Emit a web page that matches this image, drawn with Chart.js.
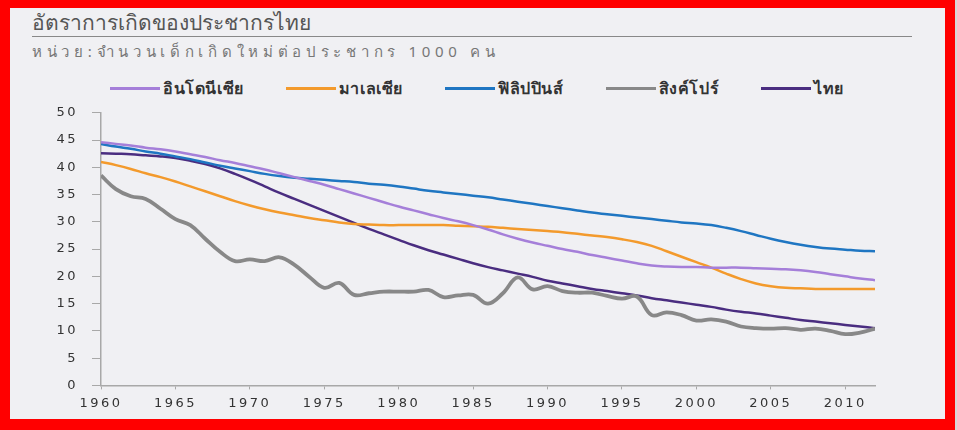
<!DOCTYPE html>
<html lang="th">
<head>
  <meta charset="UTF-8">
  <title>อัตราการเกิดของประชากรไทย</title>
  <script src="https://cdn.jsdelivr.net/npm/chart.js@4.4.1/dist/chart.umd.min.js"></script>
  <style>
    html, body {
      margin: 0;
      padding: 0;
      background: #d8d8d8;
    }
    .frame {
      position: absolute;
      left: 0;
      top: 0;
      width: 955px;
      height: 430px;
      box-sizing: border-box;
      border-style: solid;
      border-color: #ff0000;
      border-width: 8px 10px 11px 10px;
      background: #f0f0f3;
    }
    .title {
      position: absolute;
      left: 32px;
      top: 6px;
      font-family: "Noto Sans", "DejaVu Sans", sans-serif;
      font-size: 21px;
      color: #555;
    }
    .rule {
      position: absolute;
      left: 32px;
      top: 36px;
      width: 880px;
      height: 1px;
      background: #888;
    }
    .subtitle {
      position: absolute;
      left: 32px;
      top: 40px;
      font-family: "Noto Sans", "DejaVu Sans", sans-serif;
      font-size: 15px;
      letter-spacing: 4.7px;
      color: #777;
    }
    .legend {
      position: absolute;
      left: 110px;
      top: 76px;
      height: 24px;
      display: flex;
      align-items: center;
      font-family: "Noto Sans", "DejaVu Sans", sans-serif;
      font-size: 16px;
      font-weight: bold;
      letter-spacing: 0.6px;
      color: #333;
    }
    .legend .item {
      display: flex;
      align-items: center;
      margin-right: 42px;
    }
    .legend .swatch {
      width: 50px;
      height: 3px;
      margin-right: 3px;
    }
    .chart-box {
      position: absolute;
      left: 0;
      top: 91px;
      width: 957px;
      height: 326px;
    }
  </style>
</head>
<body>
  <div class="frame"></div>
  <div class="title">อัตราการเกิดของประชากรไทย</div>
  <div class="rule"></div>
  <div class="subtitle">หน่วย:จำนวนเด็กเกิดใหม่ต่อประชากร 1000 คน</div>
  <div class="legend" id="legend"></div>
  <div class="chart-box"><canvas id="chart"></canvas></div>
  <script>
    const years = [];
    for (let y = 1960; y <= 2012; y++) years.push(y);

    const seriesNames = ['อินโดนีเซีย', 'มาเลเซีย', 'ฟิลิปปินส์', 'สิงค์โปร์', 'ไทย'];
    const seriesColors = ['#a57fd9', '#f39a2c', '#1f76c2', '#888888', '#4a2d80'];

    const indonesia = [44.6, 44.3, 44.0, 43.6, 43.3, 42.9, 42.4, 41.9, 41.3, 40.8,
      40.2, 39.6, 38.9, 38.2, 37.5, 36.8, 36.0, 35.2, 34.4, 33.6,
      32.8, 32.1, 31.4, 30.7, 30.1, 29.4, 28.6, 27.7, 26.9, 26.2,
      25.6, 25.0, 24.5, 23.9, 23.4, 22.9, 22.4, 22.0, 21.8, 21.7,
      21.7, 21.6, 21.6, 21.6, 21.5, 21.4, 21.3, 21.1, 20.8, 20.4,
      20.0, 19.6, 19.3];
    const malaysia = [41.0, 40.4, 39.7, 38.9, 38.2, 37.4, 36.5, 35.6, 34.7, 33.8,
      33.0, 32.3, 31.7, 31.2, 30.7, 30.3, 29.9, 29.6, 29.5, 29.4,
      29.4, 29.4, 29.4, 29.4, 29.3, 29.2, 29.1, 28.9, 28.7, 28.5,
      28.3, 28.1, 27.8, 27.5, 27.2, 26.8, 26.3, 25.6, 24.6, 23.6,
      22.6, 21.6, 20.5, 19.5, 18.7, 18.2, 17.9, 17.8, 17.7, 17.7,
      17.7, 17.7, 17.7];
    const philippines = [44.3, 43.8, 43.4, 42.9, 42.5, 42.0, 41.5, 40.9, 40.3, 39.8,
      39.3, 38.8, 38.4, 38.1, 37.9, 37.7, 37.5, 37.3, 37.0, 36.8,
      36.5, 36.1, 35.7, 35.4, 35.1, 34.8, 34.5, 34.1, 33.7, 33.3,
      32.9, 32.5, 32.1, 31.7, 31.4, 31.1, 30.8, 30.5, 30.2, 29.9,
      29.7, 29.4, 28.9, 28.3, 27.6, 26.9, 26.3, 25.8, 25.4, 25.1,
      24.9, 24.7, 24.6];
    const singapore = [38.5, 36.0, 34.7, 34.2, 32.4, 30.5, 29.4, 26.9, 24.5, 22.8,
      23.1, 22.8, 23.5, 22.1, 19.9, 17.9, 18.8, 16.6, 16.9, 17.2,
      17.2, 17.2, 17.5, 16.2, 16.5, 16.6, 15.0, 16.9, 19.8, 17.6,
      18.2, 17.3, 17.0, 17.0, 16.4, 15.9, 16.3, 12.9, 13.4, 12.9,
      11.9, 12.1, 11.7, 10.8, 10.5, 10.4, 10.5, 10.2, 10.4, 10.0,
      9.4, 9.7, 10.4];
    const thailand = [42.6, 42.5, 42.4, 42.2, 42.0, 41.7, 41.2, 40.6, 39.8, 38.8,
      37.7, 36.5, 35.3, 34.2, 33.1, 32.0, 30.9, 29.8, 28.7, 27.7,
      26.7, 25.7, 24.8, 24.0, 23.2, 22.4, 21.7, 21.1, 20.5, 19.9,
      19.2, 18.7, 18.2, 17.7, 17.3, 16.9, 16.5, 16.0, 15.6, 15.2,
      14.8, 14.4, 13.9, 13.5, 13.2, 12.8, 12.4, 12.0, 11.7, 11.4,
      11.1, 10.8, 10.5];

    const seriesValues = [indonesia, malaysia, philippines, singapore, thailand];
    const seriesWidths = [2.5, 2.5, 2.5, 3.8, 2.5];

    // legend drawn as html so it can sit exactly where the original has it
    const legendEl = document.getElementById('legend');
    seriesNames.forEach((name, i) => {
      const item = document.createElement('div');
      item.className = 'item';
      const sw = document.createElement('span');
      sw.className = 'swatch';
      sw.style.background = seriesColors[i];
      const txt = document.createElement('span');
      txt.textContent = name;
      item.appendChild(sw);
      item.appendChild(txt);
      legendEl.appendChild(item);
    });

    const datasets = seriesNames.map((name, i) => ({
      label: name,
      data: seriesValues[i].map((v, j) => ({ x: years[j], y: v })),
      borderColor: seriesColors[i],
      backgroundColor: seriesColors[i],
      borderWidth: seriesWidths[i],
      pointRadius: 0,
      tension: 0.4,
      fill: false
    }));

    const axisColor = '#a8a8a8';
    const tickFont = { family: '"DejaVu Sans", sans-serif', size: 13 };

    // the original tick numbers are drawn wide, so space the letters out a bit
    const wideText = {
      id: 'wideText',
      beforeLayout(chart) { chart.ctx.letterSpacing = '2.5px'; },
      beforeDraw(chart) { chart.ctx.letterSpacing = '2.5px'; }
    };

    new Chart(document.getElementById('chart'), {
      type: 'line',
      data: { datasets: datasets },
      plugins: [wideText],
      options: {
        responsive: true,
        maintainAspectRatio: false,
        animation: false,
        layout: { padding: { top: 12, right: 82, bottom: 0, left: 0 } },
        plugins: {
          tooltip: { enabled: false },
          legend: { display: false }
        },
        scales: {
          x: {
            type: 'linear',
            min: 1960,
            max: 2012,
            border: { display: true, color: axisColor, width: 1.5 },
            grid: { drawOnChartArea: false, drawTicks: true, tickLength: 4, color: axisColor },
            ticks: {
              stepSize: 5,
              includeBounds: false,
              color: '#333',
              font: tickFont,
              maxRotation: 0,
              padding: 6,
              callback: v => String(v)
            }
          },
          y: {
            min: 0,
            max: 50,
            border: { display: true, color: axisColor, width: 1.5 },
            grid: { drawOnChartArea: false, drawTicks: true, tickLength: 9, color: axisColor },
            ticks: { stepSize: 5, color: '#333', font: tickFont, padding: 14 },
            afterFit: scale => { scale.width = 101; }
          }
        }
      }
    });
  </script>
</body>
</html>
